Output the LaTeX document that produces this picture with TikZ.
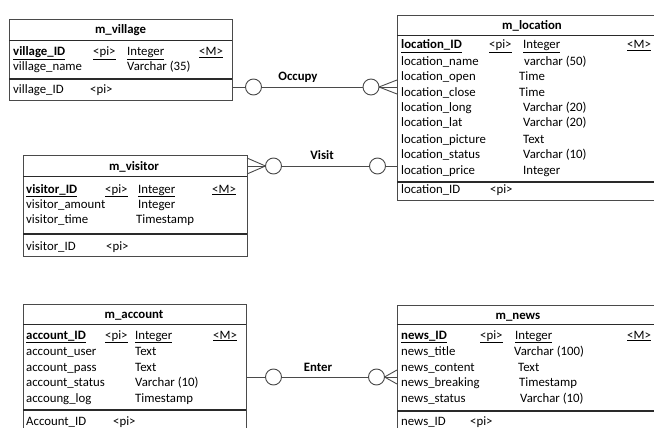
\documentclass[tikz,border=0pt]{standalone}
\usepackage{fontspec}
\setmainfont{Carlito}
\usetikzlibrary{calc}
\definecolor{linec}{HTML}{4A4A4A}
\definecolor{sepc}{HTML}{2A2A2A}
\tikzset{
  txt/.style={anchor=base west, inner sep=0pt, font=\fontsize{12.8}{15}\selectfont},
  ttl/.style={anchor=base, inner sep=0pt, font=\bfseries\fontsize{12.8}{15}\selectfont},
  rellabel/.style={anchor=base, inner sep=0pt, font=\bfseries\fontsize{12.8}{15}\selectfont},
  ent/.style={draw=linec, line width=0.9pt, anchor=north west, inner sep=0pt, outer sep=0pt, fill=white},
  sepline/.style={draw=sepc, line width=1.6pt},
  hdline/.style={draw=sepc, line width=0.9pt},
  circ/.style={circle, draw=linec, line width=0.9pt, fill=white, minimum size=16pt, inner sep=0pt, outer sep=0pt},
  conn/.style={draw=linec, line width=0.9pt}
}
\begin{document}
\begin{tikzpicture}[x=1pt,y=-1pt]
\useasboundingbox (0,0) rectangle (654,428);
\clip (0,0) rectangle (654,428);
\fill[white] (0,0) rectangle (654,428);

% ---------- boxes ----------
\node[ent, minimum width=223pt, minimum height=81pt] (village) at (9,19) {};
\node[ent, minimum width=271pt, minimum height=185pt] (location) at (397,15) {};
\node[ent, minimum width=224pt, minimum height=101pt] (visitor) at (23,155) {};
\node[ent, minimum width=223pt, minimum height=140pt] (account) at (23,304) {};
\node[ent, minimum width=271pt, minimum height=140pt] (news) at (397,305) {};

% header and separator lines
\draw[hdline] ($(village.north west)+(0,21)$) -- ($(village.north east)+(0,21)$);
\draw[sepline] ($(village.north west)+(0,60)$) -- ($(village.north east)+(0,60)$);
\draw[hdline] ($(location.north west)+(0,20)$) -- ($(location.north east)+(0,20)$);
\draw[sepline] ($(location.north west)+(0,167)$) -- ($(location.north east)+(0,167)$);
\draw[hdline] ($(visitor.north west)+(0,21)$) -- ($(visitor.north east)+(0,21)$);
\draw[sepline] ($(visitor.north west)+(0,79)$) -- ($(visitor.north east)+(0,79)$);
\draw[hdline] ($(account.north west)+(0,20)$) -- ($(account.north east)+(0,20)$);
\draw[sepline] ($(account.north west)+(0,106)$) -- ($(account.north east)+(0,106)$);
\draw[hdline] ($(news.north west)+(0,19)$) -- ($(news.north east)+(0,19)$);
\draw[sepline] ($(news.north west)+(0,106)$) -- ($(news.north east)+(0,106)$);

% ---------- m_village ----------
\node[ttl] (vt) at (120.5,34) {m\_village};
\node[txt] (v1a) at (13,56) {\bfseries\underline{village\_ID}};
\node[txt] (v1b) at (93,56) {\underline{<pi>}};
\node[txt] (v1c) at (127,56) {\underline{Integer}};
\node[txt] (v1d) at (199,56) {\underline{<M>}};
\node[txt] (v2a) at (13,71) {village\_name};
\node[txt] (v2c) at (127,71) {Varchar (35)};
\node[txt] (v3a) at (13,94) {village\_ID};
\node[txt] (v3b) at (90,94) {<pi>};

% ---------- m_location ----------
\node[ttl] (lt) at (532,30) {m\_location};
\node[txt] (l1a) at (401,49) {\bfseries\underline{location\_ID}};
\node[txt] (l1b) at (489,49) {\underline{<pi>}};
\node[txt] (l1c) at (523,49) {\underline{Integer}};
\node[txt] (l1d) at (627,49) {\underline{<M>}};
\node[txt] (l2a) at (401,66) {location\_name};
\node[txt] (l2c) at (524,66) {varchar (50)};
\node[txt] (l3a) at (401,81) {location\_open};
\node[txt] (l3c) at (519,81) {Time};
\node[txt] (l4a) at (401,96) {location\_close};
\node[txt] (l4c) at (519,96) {Time};
\node[txt] (l5a) at (401,112) {location\_long};
\node[txt] (l5c) at (523,112) {Varchar (20)};
\node[txt] (l6a) at (401,127) {location\_lat};
\node[txt] (l6c) at (523,127) {Varchar (20)};
\node[txt] (l7a) at (401,143) {location\_picture};
\node[txt] (l7c) at (523,143) {Text};
\node[txt] (l8a) at (401,158) {location\_status};
\node[txt] (l8c) at (523,158) {Varchar (10)};
\node[txt] (l9a) at (401,174) {location\_price};
\node[txt] (l9c) at (523,174) {Integer};
\node[txt] (l10a) at (401,193) {location\_ID};
\node[txt] (l10b) at (490,193) {<pi>};

% ---------- m_visitor ----------
\node[ttl] (vit) at (134,170) {m\_visitor};
\node[txt] (s1a) at (26,193) {\bfseries\underline{visitor\_ID}};
\node[txt] (s1b) at (105,193) {\underline{<pi>}};
\node[txt] (s1c) at (138,193) {\underline{Integer}};
\node[txt] (s1d) at (212,193) {\underline{<M>}};
\node[txt] (s2a) at (26,208) {visitor\_amount};
\node[txt] (s2c) at (138,208) {Integer};
\node[txt] (s3a) at (26,223) {visitor\_time};
\node[txt] (s3c) at (136,223) {Timestamp};
\node[txt] (s4a) at (26,250) {visitor\_ID};
\node[txt] (s4b) at (106,250) {<pi>};

% ---------- m_account ----------
\node[ttl] (at) at (134,318) {m\_account};
\node[txt] (a1a) at (26,339) {\bfseries\underline{account\_ID}};
\node[txt] (a1b) at (105,339) {\underline{<pi>}};
\node[txt] (a1c) at (135,339) {\underline{Integer}};
\node[txt] (a1d) at (213,339) {\underline{<M>}};
\node[txt] (a2a) at (26,355) {account\_user};
\node[txt] (a2c) at (135,355) {Text};
\node[txt] (a3a) at (26,371) {account\_pass};
\node[txt] (a3c) at (135,371) {Text};
\node[txt] (a4a) at (26,386) {account\_status};
\node[txt] (a4c) at (135,386) {Varchar (10)};
\node[txt] (a5a) at (26,402) {accoung\_log};
\node[txt] (a5c) at (135,402) {Timestamp};
\node[txt] (a6a) at (26,425) {Account\_ID};
\node[txt] (a6b) at (113,425) {<pi>};

% ---------- m_news ----------
\node[ttl] (nt) at (518,319) {m\_news};
\node[txt] (n1a) at (401,339) {\bfseries\underline{news\_ID}};
\node[txt] (n1b) at (480,339) {\underline{<pi>}};
\node[txt] (n1c) at (515,339) {\underline{Integer}};
\node[txt] (n1d) at (627,339) {\underline{<M>}};
\node[txt] (n2a) at (401,355) {news\_title};
\node[txt] (n2c) at (514,355) {Varchar (100)};
\node[txt] (n3a) at (401,371) {news\_content};
\node[txt] (n3c) at (518,371) {Text};
\node[txt] (n4a) at (401,386) {news\_breaking};
\node[txt] (n4c) at (519,386) {Timestamp};
\node[txt] (n5a) at (401,402) {news\_status};
\node[txt] (n5c) at (520,402) {Varchar (10)};
\node[txt] (n6a) at (401,425) {news\_ID};
\node[txt] (n6b) at (470,425) {<pi>};

% ---------- relationships ----------
% Occupy
\node[circ] (occL) at (253.5,87) {};
\node[circ] (occR) at (371,87) {};
\draw[conn] (village.east |- occL) -- (occL.west);
\draw[conn] (occL.east) -- (occR.west);
\draw[conn] (occR.east) -- ($(location.west |- occR)+(0,-7)$);
\draw[conn] (occR.east) -- (location.west |- occR);
\draw[conn] (occR.east) -- ($(location.west |- occR)+(0,7)$);
\node[rellabel] (occlab) at (298,81) {Occupy};

% Visit
\node[circ] (visL) at (273.5,166) {};
\node[circ] (visR) at (377.5,166) {};
\draw[conn] ($(visitor.east |- visL)+(0,-8)$) -- (visL.west);
\draw[conn] (visitor.east |- visL) -- (visL.west);
\draw[conn] ($(visitor.east |- visL)+(0,8)$) -- (visL.west);
\draw[conn] (visL.east) -- (visR.west);
\draw[conn] (visR.east) -- (location.west |- visR);
\node[rellabel] (vislab) at (322,160) {Visit};

% Enter
\node[circ] (entL) at (273.5,377) {};
\node[circ] (entR) at (376.5,377) {};
\draw[conn] (account.east |- entL) -- (entL.west);
\draw[conn] (entL.east) -- (entR.west);
\draw[conn] (entR.east) -- ($(news.west |- entR)+(0,-7)$);
\draw[conn] (entR.east) -- (news.west |- entR);
\draw[conn] (entR.east) -- ($(news.west |- entR)+(0,7)$);
\node[rellabel] (entlab) at (318,371) {Enter};
\end{tikzpicture}
\end{document}
